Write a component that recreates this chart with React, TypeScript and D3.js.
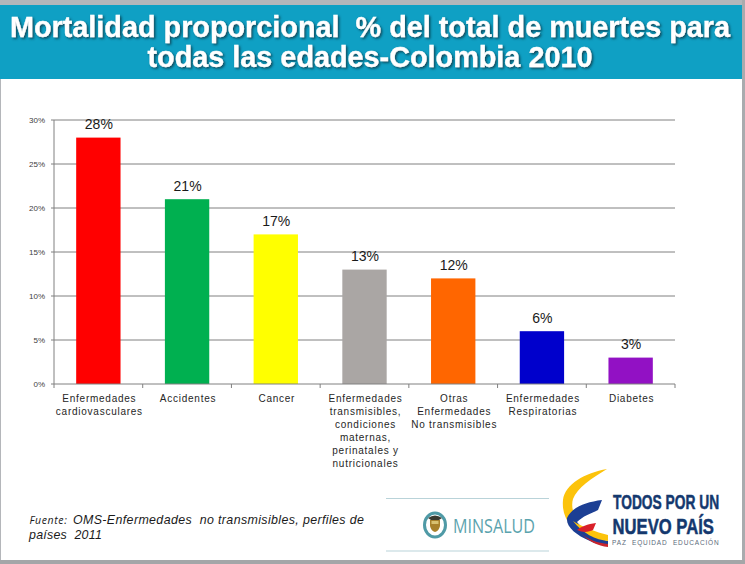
import React from "react";
import * as d3 from "d3";

const categories = ["cardio", "acc", "cancer", "trans", "otras", "resp", "diab"];
const values = [28, 21, 17, 13, 12, 6, 3];
const barColors = ["#ff0000", "#00b050", "#ffff00", "#aaa6a4", "#ff6600", "#0000cc", "#9211c4"];
const categoryLines = [
  ["Enfermedades", "cardiovasculares"],
  ["Accidentes"],
  ["Cancer"],
  ["Enfermedades", "transmisibles,", "condiciones", "maternas,", "perinatales y", "nutricionales"],
  ["Otras", "Enfermedades", "No transmisibles"],
  ["Enfermedades", "Respiratorias"],
  ["Diabetes"],
];
const yTicks = [0, 5, 10, 15, 20, 25, 30];
const titleLines = ["Mortalidad proporcional  % del total de muertes para", "todas las edades-Colombia 2010"];

const W = 745, H = 564;
const x = d3.scaleBand<string>().domain(categories).range([54, 675]).paddingInner(0.5).paddingOuter(0.25);
const step = x.step();
const y = d3.scaleLinear().domain([0, 30]).range([384, 120]);
const font = "'Liberation Sans', Arial, sans-serif";

export default function App() {
  return (
    <svg width={W} height={H} viewBox={`0 0 ${W} ${H}`} style={{ position: "absolute", left: 0, top: 0, display: "block" }}>
      <defs>
        <filter id="ts" x="-5%" y="-20%" width="110%" height="140%">
          <feDropShadow dx="1.5" dy="1.5" stdDeviation="1" floodColor="#0a3a48" floodOpacity="0.85" />
        </filter>
      </defs>
      <rect width={W} height={H} fill="#ffffff" />
      <rect x={0} y={0} width={W} height={5} fill="#b4b6ba" />
      <rect x={742} y={0} width={3} height={H} fill="#a9abae" />
      <rect x={0} y={0} width={1} height={H} fill="#b4b6ba" />
      <rect x={0} y={560} width={W} height={4} fill="#a4a6a8" />
      <rect x={0} y={5} width={742} height={74} fill="#0fa0c4" />
      {titleLines.map((t, i) => (
        <text key={i} x={370} y={37 + i * 30} textAnchor="middle" fontFamily={font} fontWeight={700} fontSize={28.8}
          fill="#ffffff" stroke="#ffffff" strokeWidth={0.3} filter="url(#ts)" xmlSpace="preserve" style={{ whiteSpace: "pre" }}>{t}</text>
      ))}

      {yTicks.filter((t) => t > 0).map((t) => (
        <line key={t} x1={54} x2={675} y1={y(t)} y2={y(t)} stroke="#808080" strokeWidth={1} />
      ))}
      <line x1={54} x2={54} y1={y(30)} y2={y(0)} stroke="#808080" />
      {yTicks.map((t) => (
        <g key={t}>
          <line x1={51} x2={54} y1={y(t)} y2={y(t)} stroke="#808080" />
          <text x={45} y={y(t) + 3} textAnchor="end" fontFamily={font} fontSize={8} fill="#404040">{t}%</text>
        </g>
      ))}

      {categories.map((c, i) => (
        <rect key={c} x={x(c)!} y={y(values[i])} width={x.bandwidth()} height={y(0) - y(values[i])} fill={barColors[i]} />
      ))}
      <line x1={54} x2={675} y1={y(0)} y2={y(0)} stroke="#808080" />
      {d3.range(categories.length + 1).map((i) => (
        <line key={i} x1={54 + i * step} x2={54 + i * step} y1={y(0)} y2={y(0) + 4} stroke="#808080" />
      ))}
      {categories.map((c, i) => (
        <text key={c} x={x(c)! + x.bandwidth() / 2 + 0.5} y={y(values[i]) - 8.5} textAnchor="middle" fontFamily={font} fontSize={14} fill="#1a1a1a">
          {values[i]}%
        </text>
      ))}
      {categories.map((c, i) => (
        <text key={c} textAnchor="middle" fontFamily={font} fontSize={10} letterSpacing={0.75} fill="#262626">
          {categoryLines[i].map((l, j) => (
            <tspan key={j} x={x(c)! + x.bandwidth() / 2 + 1} y={402 + j * 13}>{l}</tspan>
          ))}
        </text>
      ))}

      <text x={29.5} y={523.5} fontFamily="'Open Sans', sans-serif" fontStyle="italic" fontSize={10.5} letterSpacing={0.6} fill="#1a1a1a">Fuente:</text>
      <text x={73} y={523.5} fontFamily={font} fontStyle="italic" fontSize={12.4} letterSpacing={0.38} fill="#1a1a1a" xmlSpace="preserve" style={{ whiteSpace: "pre" }}>OMS-Enfermedades  no transmisibles, perfiles de</text>
      <text x={29} y={538.5} fontFamily={font} fontStyle="italic" fontSize={12.4} letterSpacing={0.25} fill="#1a1a1a" xmlSpace="preserve" style={{ whiteSpace: "pre" }}>países  2011</text>

      {/* MINSALUD logo */}
      <line x1={386} x2={549} y1={498.5} y2={498.5} stroke="#b9d3d9" strokeWidth={1} />
      <line x1={386} x2={549} y1={551} y2={551} stroke="#b9d3d9" strokeWidth={1} />
      <ellipse cx={435} cy={525} rx={10.5} ry={12} fill="#ffffff" stroke="#4f9aa6" strokeWidth={3} />
      <path d="M430 520 h10 v6 q-1 5 -5 6 q-4 -1 -5 -6 z" fill="#a8802a" />
      <path d="M428 518 q7 -5 14 0 l-3 2 h-8 z" fill="#3a3a30" />
      <rect x={431.5} y={521} width={7} height={3} fill="#d8c070" />
      <text x={453} y={532.5} fontFamily="'Open Sans', sans-serif" fontSize={20} fill="#5ba3ae" textLength={82} lengthAdjust="spacingAndGlyphs">MINSALUD</text>

      {/* Todos por un nuevo país logo */}
      <path d="M607 469 C585 473 565 484 563 500 C562 510 565 518 570 525 L577 519 C573 514 571 506 573 499 C577 488 592 478 607 469 Z" fill="#fcc30b" />
      <path d="M602 500 C586 502 572 507 567 518 C566 527 576 535 590 541 C596 544 602 545 608 546 L608 541 C596 538 584 531 577 522 C583 516 590 514 598 510 Z" fill="#1c3f94" />
      <path d="M573 521 C582 527 596 532 608 535 L608 541 C596 540 582 533 573 521 Z" fill="#fcc30b" />
      <path d="M596 523 C588 524 580 527 577 530 C583 533 589 532 593 530 Z" fill="#d9202a" />
      <path d="M581 533 C588 540 598 543 608 544 L608 547 C598 546 588 541 581 533 Z" fill="#c9242c" />
      <g transform="translate(613,509) scale(0.69,1)">
        <text fontFamily={font} fontWeight={700} fontSize={20} fill="#14386e" stroke="#14386e" strokeWidth={0.5}>TODOS POR UN</text>
      </g>
      <g transform="translate(612.5,533.5) scale(0.74,1)">
        <text fontFamily={font} fontWeight={700} fontSize={22.5} fill="#14386e" stroke="#14386e" strokeWidth={0.5}>NUEVO PAÍS</text>
      </g>
      <text x={612} y={545} fontFamily={font} fontSize={6.5} letterSpacing={0.85} fill="#5a6a7a" xmlSpace="preserve" style={{ whiteSpace: "pre" }}>PAZ  EQUIDAD  EDUCACIÓN</text>
    </svg>
  );
}
